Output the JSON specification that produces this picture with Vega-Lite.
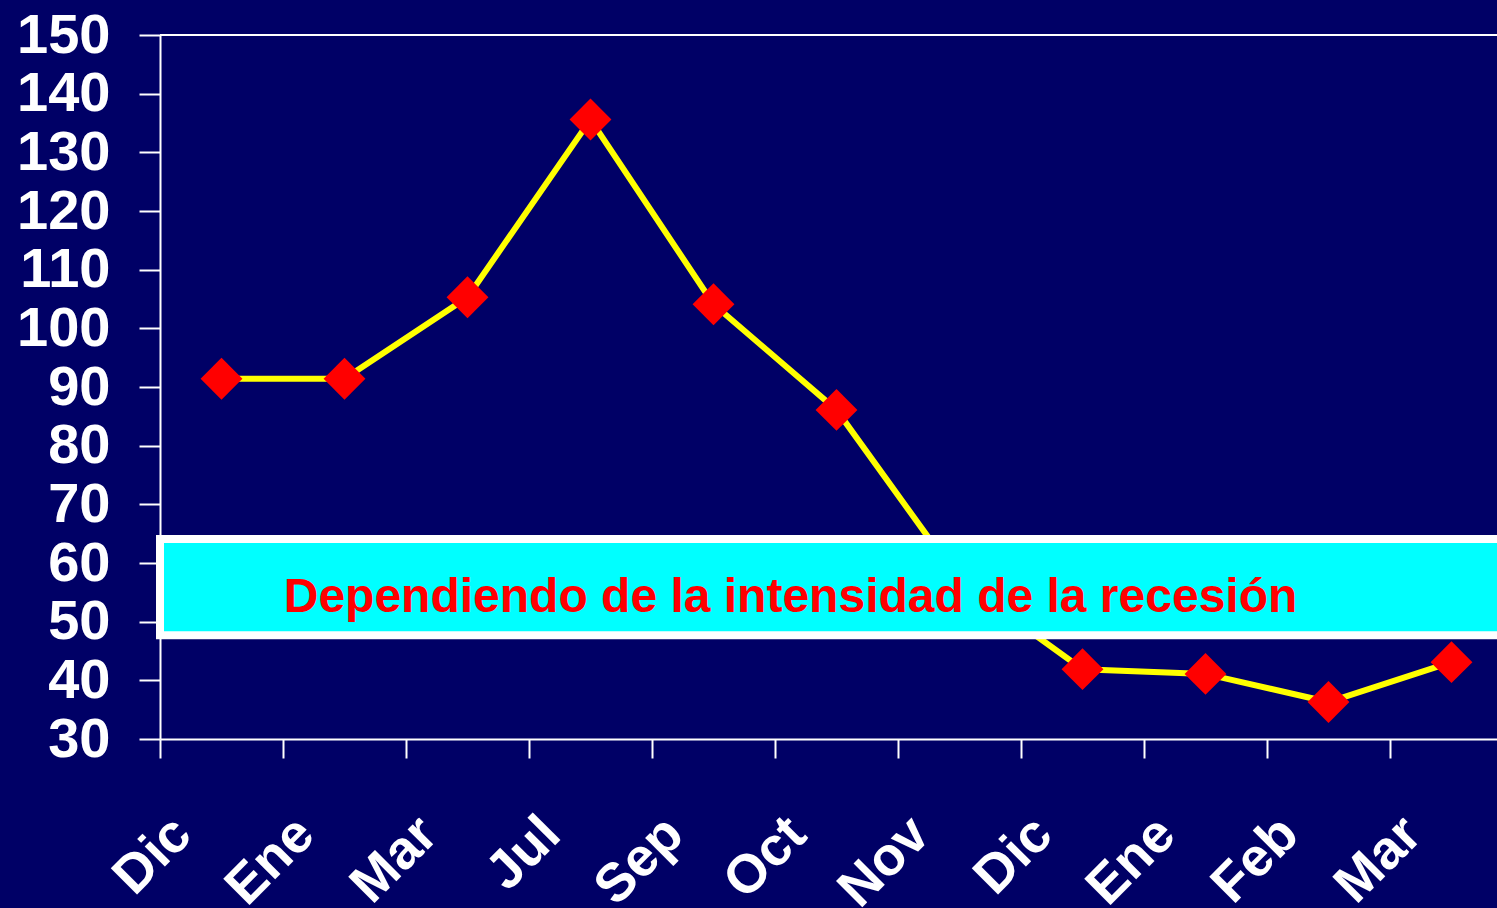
{
  "$schema": "https://vega.github.io/schema/vega-lite/v6.json",
  "width": 1353,
  "height": 704,
  "autosize": {"type": "none"},
  "padding": {"left": 160, "top": 35, "right": -16, "bottom": 169},
  "background": "#000066",
  "config": {
    "view": {"stroke": null},
    "font": "Liberation Sans",
    "axis": {
      "domainColor": "#FFFFFF",
      "domainWidth": 2,
      "tickColor": "#FFFFFF",
      "tickWidth": 2,
      "labelColor": "#FFFFFF",
      "labelFont": "Liberation Sans",
      "labelFontWeight": "bold",
      "labelOverlap": false,
      "labelBound": false,
      "labelFlush": false,
      "grid": false,
      "title": null
    }
  },
  "datasets": {
    "precios": [
      {"periodo": "Dic 2007", "valor": 91.4},
      {"periodo": "Ene 2008", "valor": 91.4},
      {"periodo": "Mar 2008", "valor": 105.3},
      {"periodo": "Jul 2008", "valor": 135.6},
      {"periodo": "Sep 2008", "valor": 104.1},
      {"periodo": "Oct 2008", "valor": 86.1},
      {"periodo": "Nov 2008", "valor": 57.0},
      {"periodo": "Dic 2008", "valor": 41.9},
      {"periodo": "Ene 2009", "valor": 41.1},
      {"periodo": "Feb 2009", "valor": 36.3},
      {"periodo": "Mar 2009", "valor": 43.1}
    ]
  },
  "layer": [
    {
      "data": {"values": [{"tope": 150}]},
      "mark": {"type": "rule", "color": "#FFFFFF", "strokeWidth": 2},
      "encoding": {
        "y": {"field": "tope", "type": "quantitative"}
      }
    },
    {
      "data": {"name": "precios"},
      "mark": {"type": "line", "color": "#FFFF00", "strokeWidth": 6},
      "encoding": {
        "x": {
          "field": "periodo",
          "type": "nominal",
          "sort": null,
          "scale": {"paddingInner": 0, "paddingOuter": 0},
          "axis": {
            "tickBand": "extent",
            "tickSize": 19,
            "labelAngle": -45,
            "labelAlign": "right",
            "labelBaseline": "alphabetic",
            "labelPadding": 79,
            "labelOffset": -28,
            "labelFontSize": 54,
            "labelExpr": "split(datum.label, ' ')[0]"
          }
        },
        "y": {
          "field": "valor",
          "type": "quantitative",
          "scale": {"domain": [30, 150], "nice": false, "zero": false},
          "axis": {
            "values": [30, 40, 50, 60, 70, 80, 90, 100, 110, 120, 130, 140, 150],
            "tickSize": 21,
            "labelPadding": 29,
            "labelFontSize": 56
          }
        }
      }
    },
    {
      "data": {"name": "precios"},
      "mark": {"type": "point", "shape": "diamond", "filled": true, "color": "#FF0000", "opacity": 1, "size": 1750},
      "encoding": {
        "x": {"field": "periodo", "type": "nominal", "sort": null},
        "y": {"field": "valor", "type": "quantitative"}
      }
    },
    {
      "data": {"values": [{"desde": 64.1, "hasta": 47.7}]},
      "mark": {"type": "rect", "fill": "#00FFFF", "stroke": "#FFFFFF", "strokeWidth": 8},
      "encoding": {
        "y": {"field": "desde", "type": "quantitative"},
        "y2": {"field": "hasta"}
      }
    },
    {
      "data": {"values": [{"texto": "Dependiendo de la intensidad de la recesión", "nivel": 51.7}]},
      "mark": {"type": "text", "color": "#FF0000", "font": "Liberation Sans", "fontSize": 48, "fontWeight": "bold", "align": "center", "baseline": "alphabetic", "dx": -46},
      "encoding": {
        "text": {"field": "texto"},
        "y": {"field": "nivel", "type": "quantitative"}
      }
    }
  ]
}
